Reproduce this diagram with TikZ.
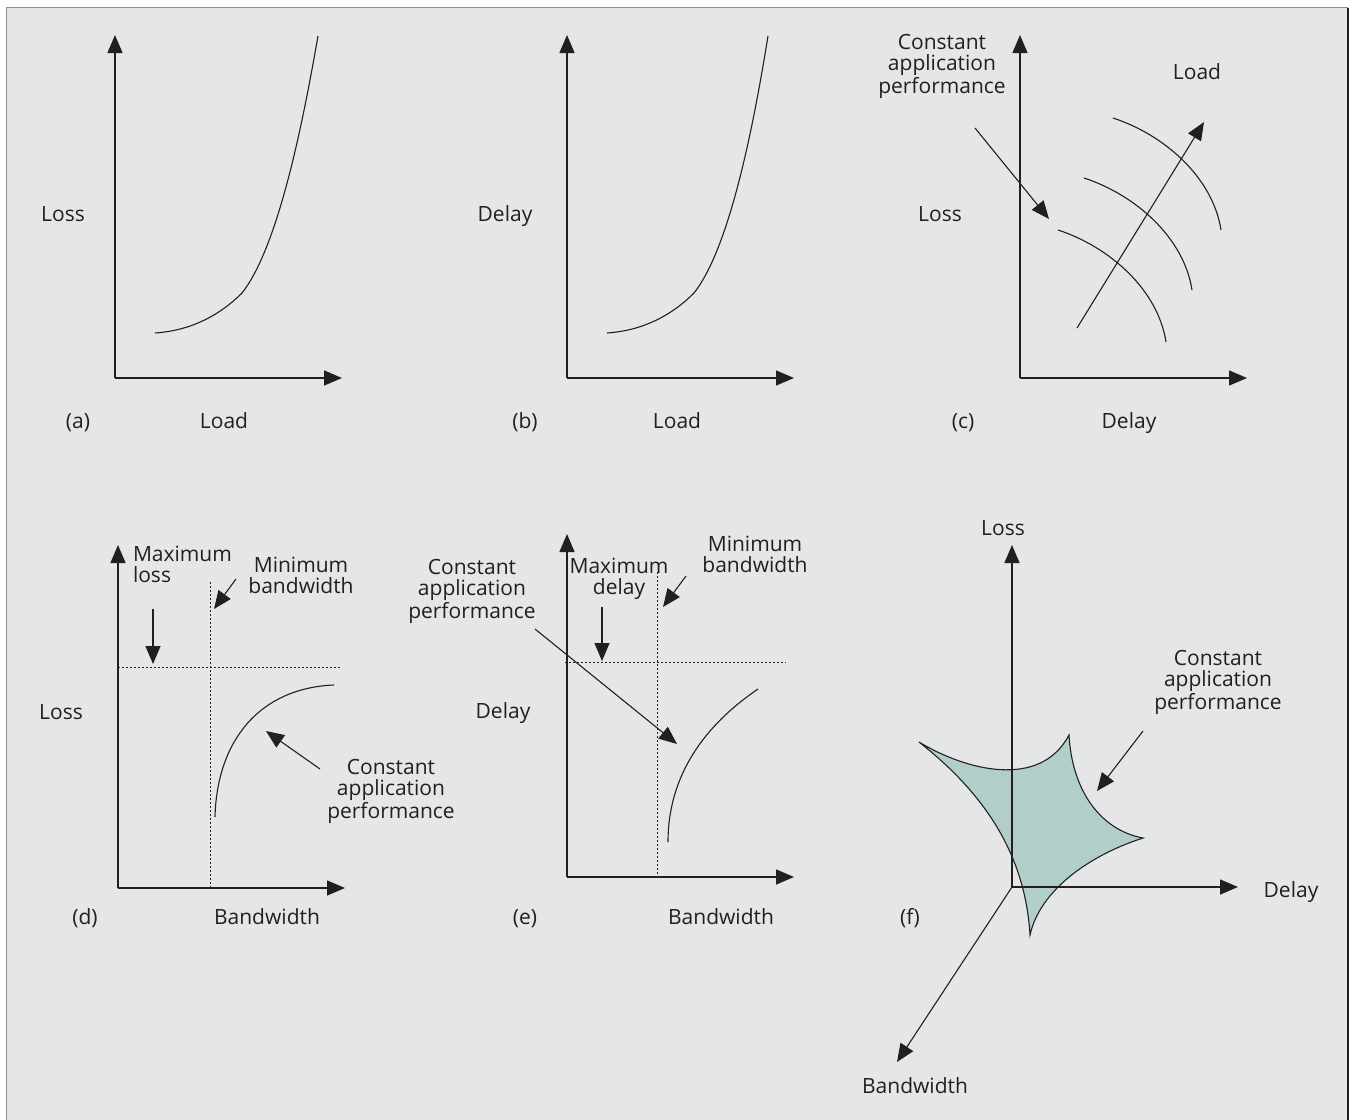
\documentclass[tikz,border=0pt]{standalone}
\usepackage{fontspec}
\setmainfont{Open Sans}
\usetikzlibrary{arrows.meta}
\definecolor{ink}{RGB}{35,31,32}
\definecolor{panel}{RGB}{229,230,232}
\definecolor{rim}{RGB}{140,140,140}
\definecolor{tealfill}{RGB}{178,206,200}
\begin{document}
\begin{tikzpicture}[x=0.5pt,y=-0.5pt,
  every node/.style={font=\fontsize{10.5}{10.5}\selectfont, text=ink, inner sep=0pt, outer sep=0pt},
  lbl/.style={text height=7.5pt, text depth=0pt},
  blk/.style={align=center},
  blkl/.style={align=left},
  axis/.style={draw=ink, line width=0.75pt, -{Triangle[length=9pt,width=7.5pt]}},
  pointer/.style={draw=ink, line width=0.55pt, -{Triangle[length=9pt,width=7.5pt]}},
  curve/.style={draw=ink, line width=0.55pt},
  guide/.style={draw=ink, line width=0.5pt, dash pattern=on 1pt off 1pt},
]
\useasboundingbox (0,0) rectangle (1356,1120);
% frame
\fill[panel] (6.5,7.5) rectangle (1348,1120);
\draw[rim, line width=0.75pt] (6.5,1120) -- (6.5,7.5) -- (1348,7.5);
\draw[ink, line width=0.75pt] (1348,7.5) -- (1348,1120);

% ---------- (a) ----------
\coordinate (oa) at (115,378);
\coordinate (ya) at (115,35);
\coordinate (xa) at (342,378);
\draw[axis] (oa) -- (ya);
\draw[axis] (oa) -- (xa);
\draw[curve] (155,333) .. controls (200,330) and (228,307) .. (242,293)
  .. controls (280,245) and (305,110) .. (318,36);
\node[lbl] (la) at (63,214) {Loss};
\node[lbl] (ta) at (78,421) {(a)};
\node[lbl] (xla) at (224,421) {Load};

% ---------- (b) ----------
\coordinate (ob) at (567,378);
\coordinate (yb) at (567,35);
\coordinate (xb) at (794,378);
\draw[axis] (ob) -- (yb);
\draw[axis] (ob) -- (xb);
\draw[curve] (607,333) .. controls (652,330) and (680,307) .. (694,293)
  .. controls (732,245) and (756,110) .. (768,36);
\node[lbl] (lb) at (505,214) {Delay};
\node[lbl] (tb) at (525,421) {(b)};
\node[lbl] (xlb) at (677,421) {Load};

% ---------- (c) ----------
\coordinate (oc) at (1020,378);
\coordinate (yc) at (1020,35);
\coordinate (xc) at (1247,378);
\draw[axis] (oc) -- (yc);
\draw[axis] (oc) -- (xc);
\draw[curve] (1058,230) .. controls (1110,247) and (1158,290) .. (1166,342);
\draw[curve] (1084,178) .. controls (1136,195) and (1184,238) .. (1192,290);
\draw[curve] (1113,118) .. controls (1165,135) and (1213,178) .. (1221,230);
\coordinate (c1s) at (1077,328);
\coordinate (c1e) at (1204,122);
\draw[pointer] (c1s) -- (c1e);
\coordinate (c2s) at (975,128);
\coordinate (c2e) at (1049,219);
\draw[pointer] (c2s) -- (c2e);
\node[blk] (capc) at (942,66) {Constant\\application\\performance};
\node[lbl] (loadc) at (1197,72) {Load};
\node[lbl] (lc) at (940,214) {Loss};
\node[lbl] (tc) at (963,421) {(c)};
\node[lbl] (xlc) at (1129,421) {Delay};

% ---------- (d) ----------
\coordinate (od) at (118,888);
\coordinate (yd) at (118,545);
\coordinate (xd) at (345,888);
\draw[guide] (210,582) -- (210,888);
\draw[guide] (118,667) -- (340,667);
\draw[axis] (od) -- (yd);
\draw[axis] (od) -- (xd);
\draw[curve] (215,817) .. controls (217,740) and (260,688) .. (334,685);
\node[blkl, anchor=north west] (maxd) at (133,546) {Maximum\\loss};
\coordinate (d1s) at (153,609);
\coordinate (d1e) at (153,664);
\draw[pointer] (d1s) -- (d1e);
\node[blk] (mind) at (301,575) {Minimum\\bandwidth};
\coordinate (d2s) at (236,579);
\coordinate (d2e) at (214,609);
\draw[pointer] (d2s) -- (d2e);
\coordinate (d3s) at (320,769);
\coordinate (d3e) at (266,731);
\draw[pointer] (d3s) -- (d3e);
\node[blk] (capd) at (391,791) {Constant\\application\\performance};
\node[lbl] (ld) at (61,712) {Loss};
\node[lbl] (td) at (85,917) {(d)};
\node[lbl] (xld) at (267,917) {Bandwidth};

% ---------- (e) ----------
\coordinate (oe) at (567,877);
\coordinate (ye) at (567,534);
\coordinate (xe) at (794,877);
\draw[guide] (657,572) -- (657,877);
\draw[guide] (565,662) -- (786,662);
\draw[axis] (oe) -- (ye);
\draw[axis] (oe) -- (xe);
\draw[curve] (668,842) .. controls (668,775) and (705,725) .. (758,689);
\node[blk] (maxe) at (619,579) {Maximum\\delay};
\coordinate (e1s) at (602,607);
\coordinate (e1e) at (602,661);
\draw[pointer] (e1s) -- (e1e);
\node[blk] (mine) at (755,554) {Minimum\\bandwidth};
\coordinate (e2s) at (686,576);
\coordinate (e2e) at (663,607);
\draw[pointer] (e2s) -- (e2e);
\node[blk] (cape) at (472,591) {Constant\\application\\performance};
\coordinate (e3s) at (535,629);
\coordinate (e3e) at (677,744);
\draw[pointer] (e3s) -- (e3e);
\node[lbl] (le) at (503,711) {Delay};
\node[lbl] (te) at (525,917) {(e)};
\node[lbl] (xle) at (721,917) {Bandwidth};

% ---------- (f) ----------
\coordinate (of) at (1012,887);
\coordinate (yf) at (1012,545);
\coordinate (xf) at (1238,887);
\coordinate (zf) at (897,1062);
\fill[tealfill] (919,742) .. controls (965,770) and (1040,790) .. (1069,735)
  .. controls (1072,790) and (1100,830) .. (1143,838)
  .. controls (1090,855) and (1040,890) .. (1030,935)
  .. controls (1025,850) and (980,790) .. (919,742) -- cycle;
\draw[axis] (of) -- (yf);
\draw[axis] (of) -- (xf);
\draw[pointer] (of) -- (zf);
\draw[curve] (919,742) .. controls (965,770) and (1040,790) .. (1069,735)
  .. controls (1072,790) and (1100,830) .. (1143,838)
  .. controls (1090,855) and (1040,890) .. (1030,935)
  .. controls (1025,850) and (980,790) .. (919,742);
\node[lbl] (lf) at (1003,528) {Loss};
\node[lbl] (xlf) at (1291,890) {Delay};
\node[lbl] (zlf) at (915,1086) {Bandwidth};
\node[lbl] (tf) at (910,917) {(f)};
\node[blk] (capf) at (1218,682) {Constant\\application\\performance};
\coordinate (f1s) at (1143,731);
\coordinate (f1e) at (1097,791);
\draw[pointer] (f1s) -- (f1e);
\end{tikzpicture}
\end{document}
